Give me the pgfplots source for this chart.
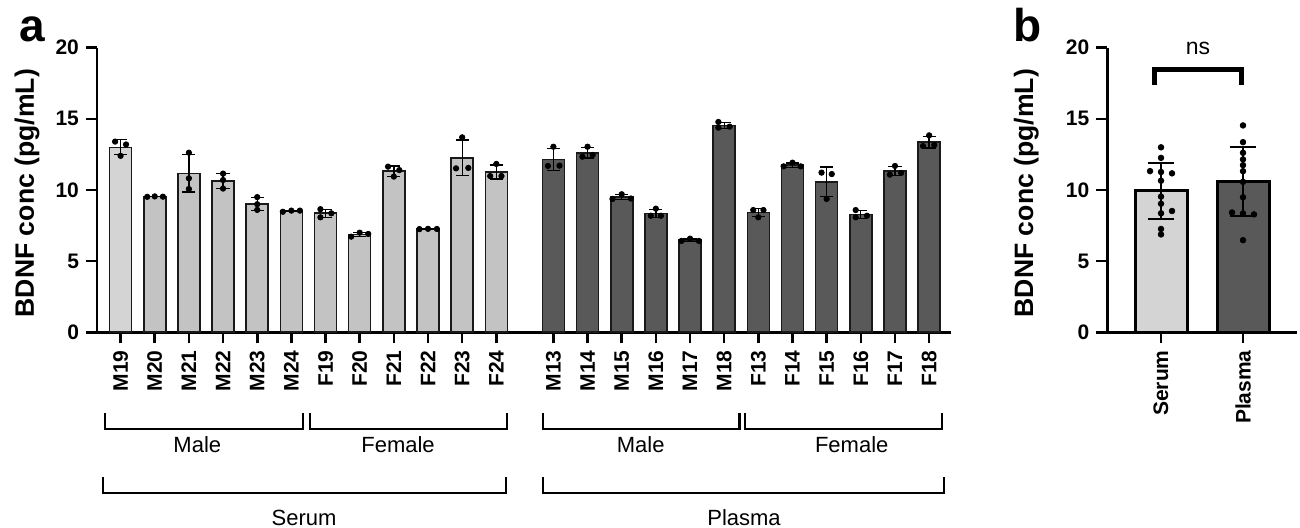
\documentclass[border=0pt]{standalone}
\usepackage{pgfplots}
\pgfplotsset{compat=1.18}
\usepackage{pgfplotstable}
\usepackage{fontspec}
\setmainfont{Liberation Sans}
\definecolor{lightbar}{HTML}{D4D4D4}
\definecolor{midbar}{HTML}{C3C3C3}
\definecolor{darkbar}{HTML}{595959}

% panel a: means and SD
\pgfplotstableread{
x y e
0 13.000 0.529
}\firstserum
\pgfplotstableread{
x y e
1 9.533 0.015
2 11.170 1.311
3 10.650 0.527
4 9.033 0.451
5 8.523 0.046
6 8.363 0.285
7 6.877 0.143
8 11.327 0.356
9 7.260 0.010
10 12.257 1.250
11 11.263 0.491
}\serum
\pgfplotstableread{
x y e
12.67 12.147 0.774
13.67 12.613 0.374
14.67 9.490 0.182
15.67 8.357 0.289
16.67 6.473 0.092
17.67 14.537 0.214
18.67 8.420 0.294
19.67 11.747 0.150
20.67 10.570 1.040
21.67 8.287 0.268
22.67 11.323 0.323
23.67 13.363 0.414
}\plasma
\pgfplotstableread{
x y
-0.16 13.40
0.16 13.20
0.00 12.40
0.78 9.52
1.00 9.55
1.24 9.53
2.00 12.62
2.00 10.82
2.00 10.07
3.00 11.15
3.00 10.70
3.00 10.10
4.00 9.50
4.00 9.00
4.00 8.60
4.75 8.47
5.00 8.55
5.25 8.55
5.85 8.65
6.17 8.36
5.85 8.08
6.75 6.72
7.00 7.00
7.25 6.91
7.83 11.64
8.16 11.40
8.00 10.94
8.75 7.25
9.00 7.27
9.26 7.26
10.00 13.70
9.82 11.52
10.18 11.55
11.00 11.83
10.82 10.98
11.15 10.98
12.67 13.04
12.51 11.69
12.85 11.71
13.67 13.04
13.52 12.34
13.82 12.46
14.67 9.70
14.40 9.37
14.94 9.40
15.67 8.69
15.52 8.19
15.82 8.19
16.67 6.58
16.42 6.42
16.93 6.42
17.50 14.78
17.50 14.38
17.83 14.45
18.52 8.59
18.82 8.59
18.67 8.08
19.67 11.92
19.41 11.66
19.91 11.66
20.52 11.22
20.82 11.12
20.67 9.37
21.52 8.59
21.52 8.08
21.85 8.19
22.67 11.69
22.52 11.08
22.85 11.20
23.67 13.84
23.49 13.09
23.82 13.16
}\pointsA
% panel b
\pgfplotstableread{
x y e
0 9.938 1.965
}\serumB
\pgfplotstableread{
x y e
1 10.611 2.427
}\plasmaB
\pgfplotstableread{
x y
0.000 13.000
0.000 12.257
-0.134 11.327
0.000 11.263
0.134 11.170
0.000 10.650
0.000 9.533
0.000 9.033
0.134 8.523
0.000 8.363
0.000 7.260
0.000 6.877
1.000 14.537
1.000 13.363
1.000 12.613
1.000 12.147
1.000 11.747
1.000 11.323
1.000 10.570
1.000 9.490
0.866 8.420
1.000 8.357
1.134 8.287
1.000 6.473
}\pointsB

\pgfplotsset{
  myaxis/.style={
    scale only axis,
    anchor=south west,
    axis lines*=left,
    axis line style={line width=1.4pt,-},
    ymin=0, ymax=20,
    ytick={0,5,10,15,20},
    tick align=outside,
    major tick length=5.5pt,
    tick style={line width=1.3pt,black},
    ticklabel style={font=\bfseries\fontsize{10.5}{12}\selectfont},
    /pgf/number format/assume math mode=true,
    xticklabel style={rotate=90,anchor=east},
    clip=false,
  },
  barA/.style={ybar, bar width=0.644, bar shift=0pt, draw=black!90, line width=0.8pt,
    error bars/.cd, y dir=both, y explicit,
    error bar style={line width=0.65pt,black},
    error mark options={rotate=90,line width=0.65pt,mark size=3.3pt,black}},
  barB/.style={ybar, bar width=0.634, bar shift=0pt, draw=black, line width=1.5pt,
    error bars/.cd, y dir=both, y explicit,
    error bar style={line width=1pt,black},
    error mark options={rotate=90,line width=1pt,mark size=6.7pt,black}},
}

\begin{document}
\begin{tikzpicture}[x=1pt,y=1pt]
\useasboundingbox (0,0) rectangle (650,264);

% ---------------- panel a ----------------
\begin{axis}[myaxis,
  at={(48.5pt,97.85pt)},
  width=427pt, height=142.3pt,
  xmin=-0.69, xmax=24.31,
  xtick={0,1,2,3,4,5,6,7,8,9,10,11,12.67,13.67,14.67,15.67,16.67,17.67,18.67,19.67,20.67,21.67,22.67,23.67},
  xticklabels={M19,M20,M21,M22,M23,M24,F19,F20,F21,F22,F23,F24,M13,M14,M15,M16,M17,M18,F13,F14,F15,F16,F17,F18},
  ylabel={BDNF conc (pg/mL)},
  ylabel style={at={(axis description cs:-0.082,0.489)},anchor=center,font=\bfseries\fontsize{13.3}{15}\selectfont},
]
\addplot[fill=lightbar, barA] table[x=x,y=y,y error=e]{\firstserum};
\addplot[fill=midbar, barA] table[x=x,y=y,y error=e]{\serum};
\addplot[fill=darkbar, barA] table[x=x,y=y,y error=e]{\plasma};
\addplot[only marks, mark=*, mark size=1.35pt, mark options={fill=black,draw=black}]
  table[x=x,y=y]{\pointsA};
\end{axis}

% ---------------- panel b ----------------
\begin{axis}[myaxis,
  at={(553.65pt,97.85pt)},
  width=94.7pt, height=142.3pt,
  xmin=-0.655, xmax=1.655,
  xtick={0,1},
  xticklabels={Serum,Plasma},
  ylabel={BDNF conc (pg/mL)},
  ylabel style={at={(axis description cs:-0.428,0.489)},anchor=center,font=\bfseries\fontsize{13.3}{15}\selectfont},
]
\addplot[fill=lightbar, barB] table[x=x,y=y,y error=e]{\serumB};
\addplot[fill=darkbar, barB] table[x=x,y=y,y error=e]{\plasmaB};
\addplot[only marks, mark=*, mark size=1.4pt, mark options={fill=black,draw=black}]
  table[x=x,y=y]{\pointsB};
\end{axis}

% panel letters
\node[anchor=base west,inner sep=0pt,font=\bfseries\fontsize{23}{26}\selectfont] at (9.5,243) {a};
\node[anchor=base west,inner sep=0pt,font=\bfseries\fontsize{23}{26}\selectfont] at (506.5,243) {b};

% group brackets (panel a)
\begin{scope}[line width=1.1pt,line cap=butt,line join=miter]
\draw (52.5,57.5) -- (52.5,49.5) -- (151.5,49.5) -- (151.5,57.5);
\draw (155,57.5) -- (155,49.5) -- (253.5,49.5) -- (253.5,57.5);
\draw (51.5,25.5) -- (51.5,17.5) -- (253,17.5) -- (253,25.5);
\draw (271.3,57.5) -- (271.3,49.5) -- (369.7,49.5) -- (369.7,57.5);
\draw (372.5,57.5) -- (372.5,49.5) -- (470.8,49.5) -- (470.8,57.5);
\draw (271.3,25.5) -- (271.3,17.5) -- (472,17.5) -- (472,25.5);
\end{scope}
\begin{scope}[every node/.style={anchor=base,inner sep=0pt,font=\fontsize{11}{13}\selectfont}]
\node at (98.65,37.5) {Male};
\node at (199,37.5) {Female};
\node at (152,1.2) {Serum};
\node at (320.35,37.5) {Male};
\node at (425.85,37.5) {Female};
\node at (372,1.2) {Plasma};
\end{scope}

% significance bracket (panel b)
\draw[line width=2.5pt,line cap=butt] (577,221.5) -- (577,229) -- (620.85,229) -- (620.85,221.5);
\node[anchor=base,inner sep=0pt,font=\fontsize{11.5}{13}\selectfont] at (599,236.5) {ns};
\end{tikzpicture}
\end{document}
